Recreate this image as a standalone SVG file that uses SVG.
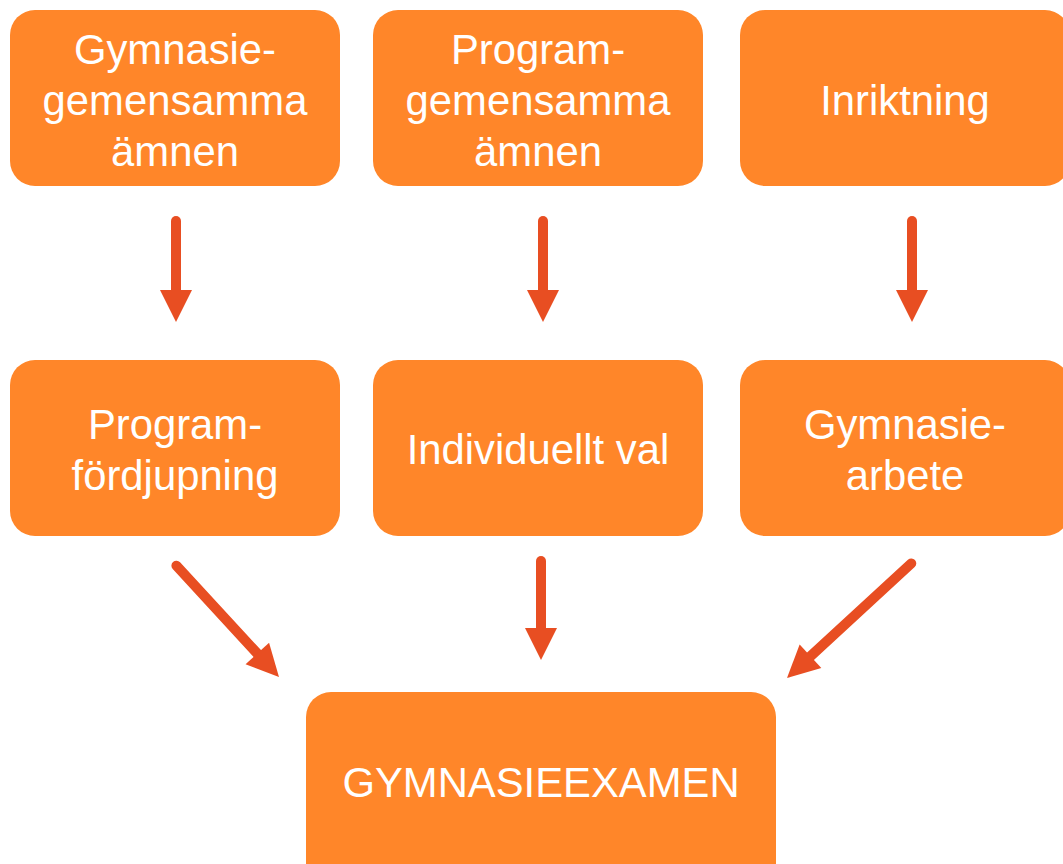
<svg xmlns="http://www.w3.org/2000/svg" width="1063" height="864" viewBox="0 0 1063 864">
<style>
.box{fill:#FF8629;}
.t{font-family:"Liberation Sans",Arial,sans-serif;font-size:41.8px;fill:#FFFFFF;text-anchor:middle;}
.c{stroke:#E84E22;stroke-width:10;stroke-linecap:round;fill:none;marker-end:url(#ah);}
</style>
<defs>
<marker id="ah" markerUnits="strokeWidth" markerWidth="3.2" markerHeight="3.2" viewBox="0 0 3.2 3.2" refX="0" refY="1.6" orient="auto" overflow="visible">
<path d="M0,0 L3.2,1.6 L0,3.2 Z" fill="#E84E22"/>
</marker>
</defs>
<rect width="1063" height="864" fill="#FFFFFF"/>
<g id="n1"><rect class="box" x="10" y="10" width="330" height="176" rx="25"/>
<text class="t" x="175" y="64">Gymnasie-</text><text class="t" x="175" y="115">gemensamma</text><text class="t" x="175" y="166">ämnen</text></g>
<g id="n2"><rect class="box" x="373" y="10" width="330" height="176" rx="25"/>
<text class="t" x="538" y="64">Program-</text><text class="t" x="538" y="115">gemensamma</text><text class="t" x="538" y="166">ämnen</text></g>
<g id="n3"><rect class="box" x="740" y="10" width="330" height="176" rx="25"/>
<text class="t" x="905" y="115">Inriktning</text></g>
<g id="n4"><rect class="box" x="10" y="360" width="330" height="176" rx="25"/>
<text class="t" x="175" y="439">Program-</text><text class="t" x="175" y="490">fördjupning</text></g>
<g id="n5"><rect class="box" x="373" y="360" width="330" height="176" rx="25"/>
<text class="t" x="538" y="464">Individuellt val</text></g>
<g id="n6"><rect class="box" x="740" y="360" width="330" height="176" rx="25"/>
<text class="t" x="905" y="439">Gymnasie-</text><text class="t" x="905" y="490">arbete</text></g>
<g id="n7"><rect class="box" x="306" y="692" width="470" height="200" rx="25"/>
<text class="t" x="541" y="797">GYMNASIEEXAMEN</text></g>
<g id="connectors">
<line class="c" x1="176" y1="221" x2="176" y2="290"/>
<line class="c" x1="543" y1="221" x2="543" y2="290"/>
<line class="c" x1="912" y1="221" x2="912" y2="290"/>
<line class="c" x1="541" y1="561" x2="541" y2="628"/>
<line class="c" x1="176.4" y1="565.7" x2="257.3" y2="653.5"/>
<line class="c" x1="911.3" y1="563.4" x2="810.5" y2="656.3"/>
</g>
</svg>
